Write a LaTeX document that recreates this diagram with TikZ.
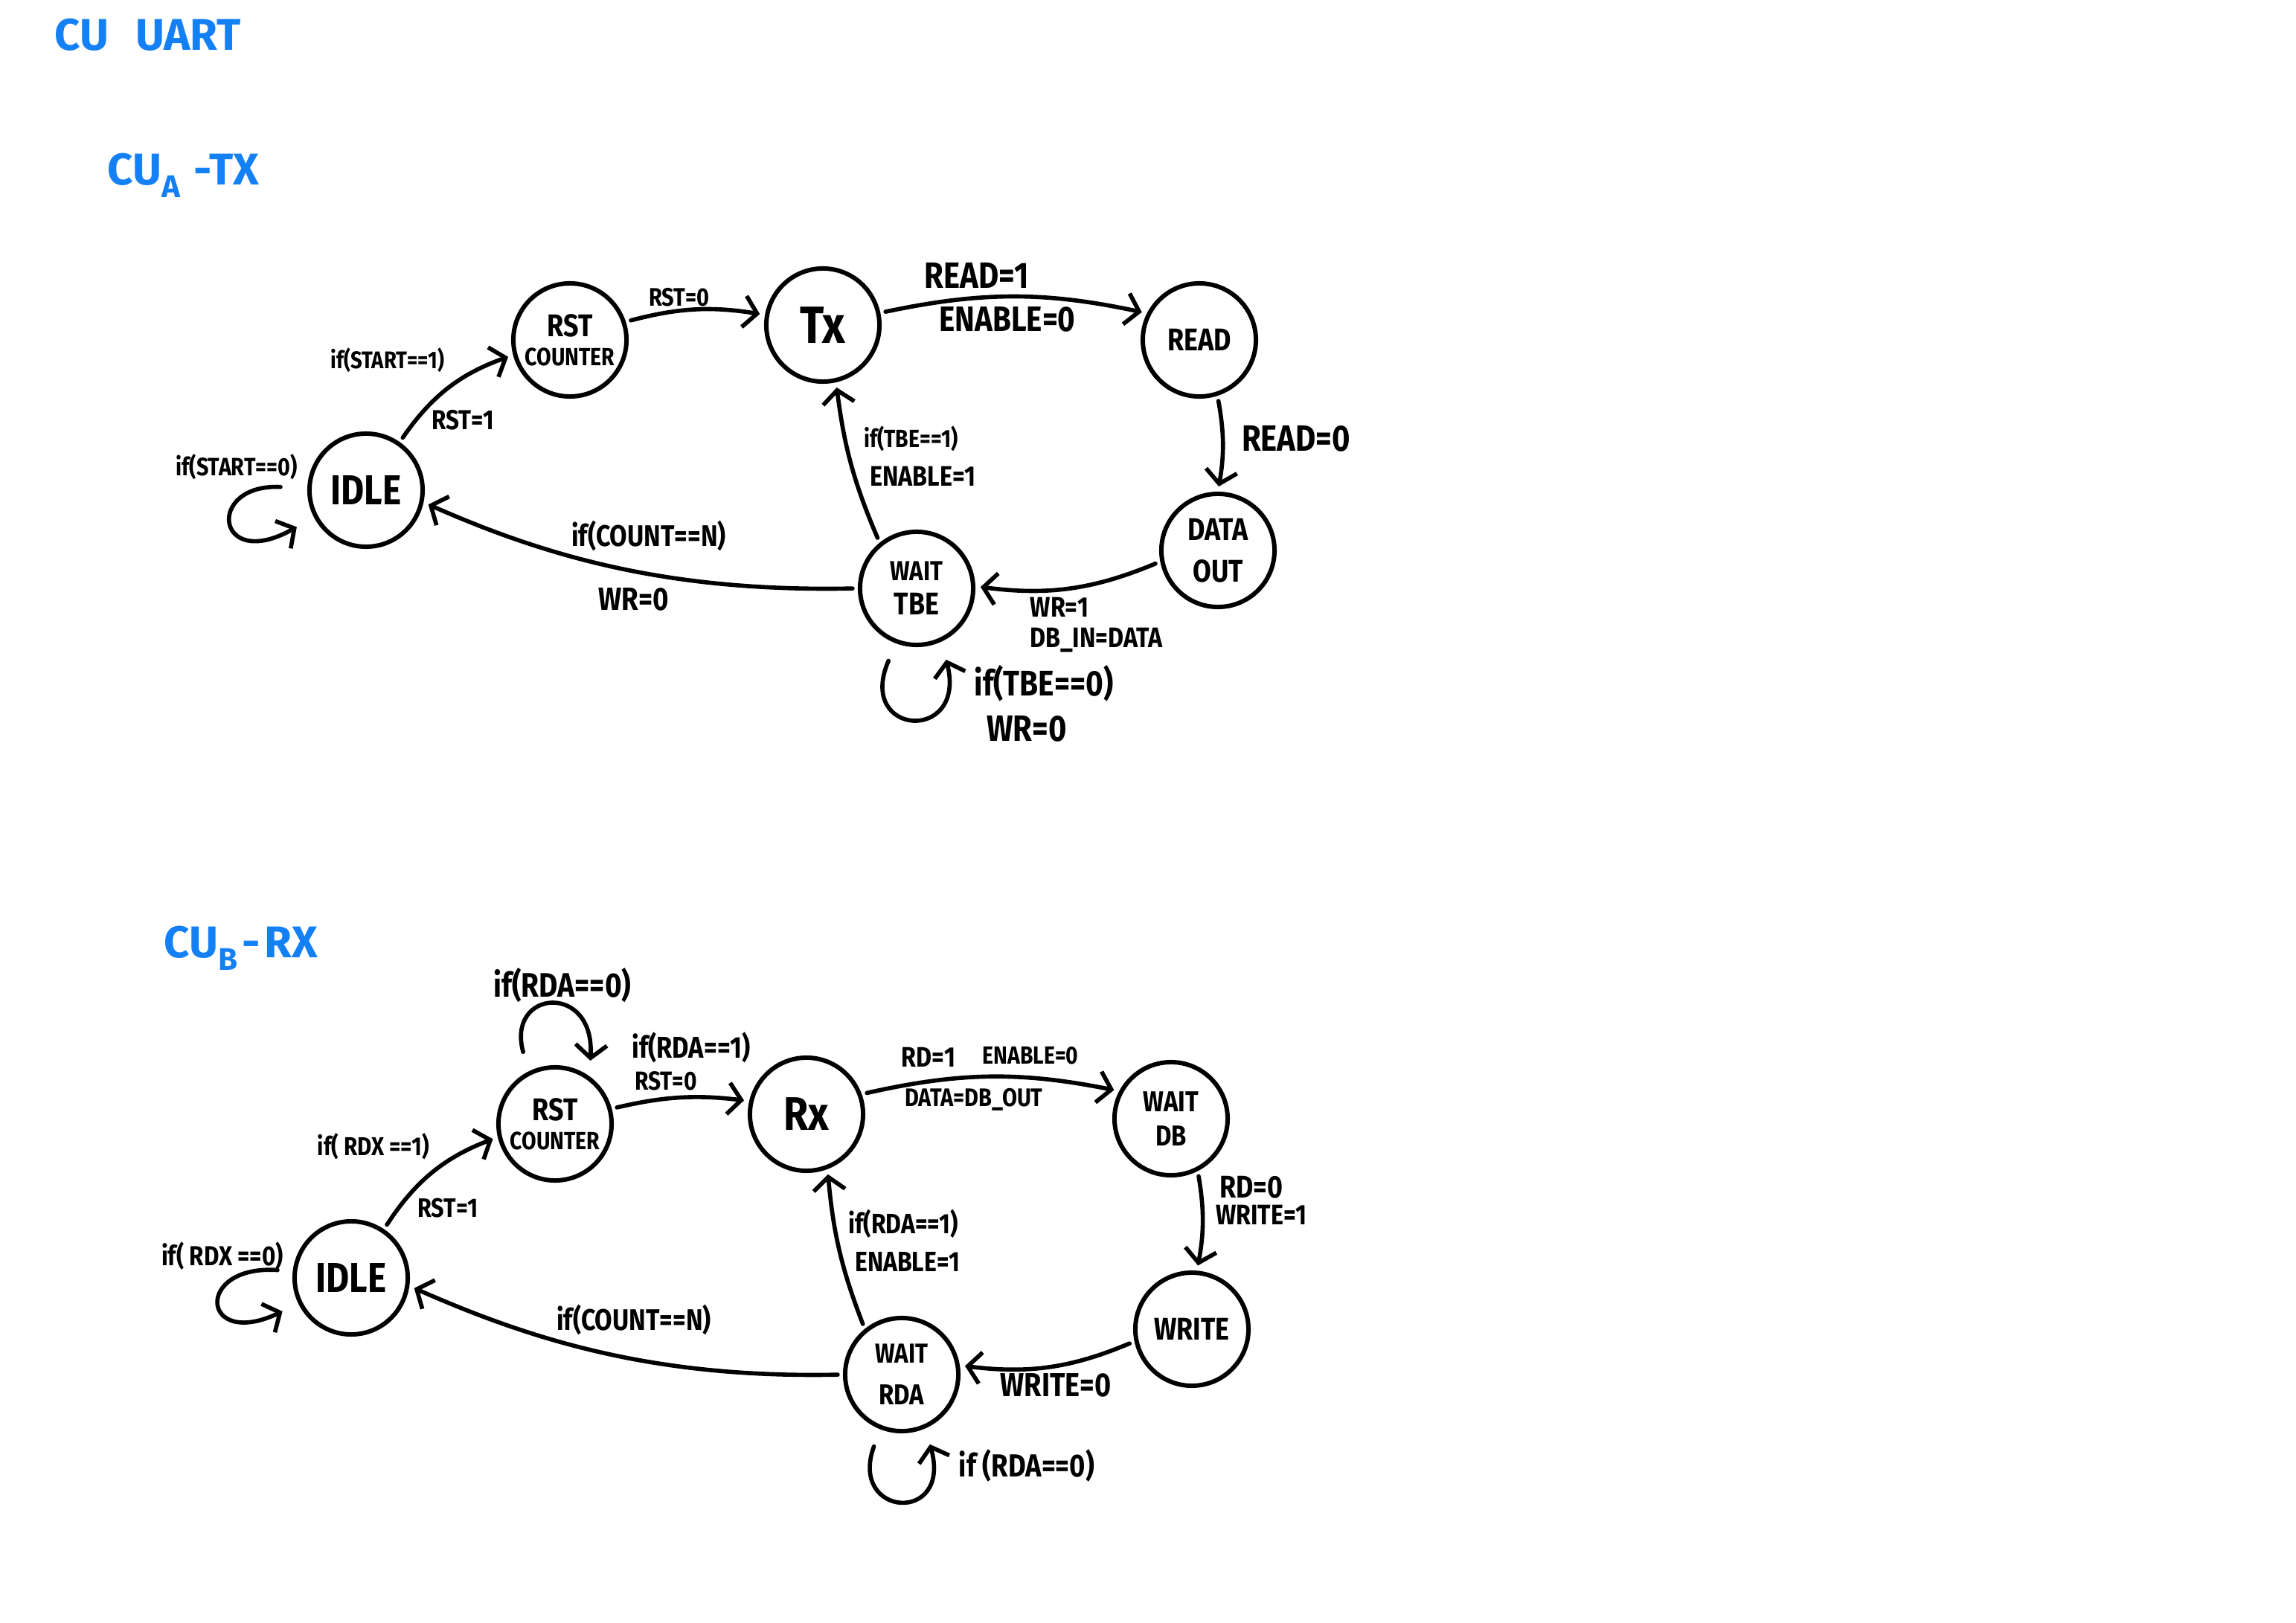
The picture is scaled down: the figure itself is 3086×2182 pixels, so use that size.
\documentclass[tikz,border=0pt]{standalone}
\usepackage{fontspec}
\setmainfont{Fira Sans}[FakeStretch=0.85]
\newfontfamily\headfont{Fira Sans}
\usetikzlibrary{arrows.meta}
\definecolor{titleblue}{RGB}{20,128,245}
\tikzset{
  state/.style={circle, draw, line width=1.7pt, minimum size=1.52cm, inner sep=0pt,
    align=center, font=\bfseries\fontsize{11}{12}\selectfont},
  edge/.style={line width=1.6pt, line cap=round,
    -{Straight Barb[length=5pt,width=12pt,line width=1.6pt]},
    shorten >=2pt, shorten <=2pt},
  lbl/.style={font=\bfseries\fontsize{#1}{#1}\selectfont, inner sep=1pt},
  lbl/.default=11,
  ttl/.style={text=titleblue, font=\headfont\bfseries\fontsize{17}{20}\selectfont,
    anchor=west, inner sep=0pt},
}
\newcommand{\fs}[1]{\fontsize{#1}{#1}\selectfont}
\begin{document}
\begin{tikzpicture}[x=0.01cm, y=-0.01cm]
  \fill[white] (0,0) rectangle (3086,2182);
  \useasboundingbox (0,0) rectangle (3086,2182);

  % headings
  \node[ttl] (head) at (73,47) {CU\hspace{0.6em}UART};
  \node[ttl] (headA) at (144,236) {CU\raisebox{-0.55ex}{\fs{12}A}\hspace{0.3em}-TX};
  \node[ttl] (headB) at (220,1275) {CU\raisebox{-0.55ex}{\fs{12}B}\hspace{0.1em}-\hspace{0.1em}RX};

  % ---------- transmitter control unit ----------
  \node[state] (idleA) at (492,659) {\fs{16}IDLE};
  \node[state] (rstA)  at (766,457) {\fs{12}RST\\[-1pt]\fs{9.5}COUNTER};
  \node[state] (tx)    at (1106,437) {\fs{20}Tx};
  \node[state] (read)  at (1612,457) {\fs{12}READ};
  \node[state] (dout)  at (1637,740) {\fs{12}DATA\\[4pt]\fs{12}OUT};
  \node[state] (wtbe)  at (1232,791) {\fs{10.5}WAIT\\[1pt]\fs{12}TBE};

  \draw[edge] (idleA.55) to[bend left=18] (rstA.195);
  \draw[edge] (rstA.18) to[bend left=12] (tx.170);
  \draw[edge] (tx.12) to[bend left=12] (read.153);
  \draw[edge] (read.-72) to[bend left=10] (dout.90);
  \draw[edge] (dout.191) to[bend left=15] (wtbe.2);
  \draw[edge] (wtbe.129) to[bend left=8] (tx.-77);
  \draw[edge] (wtbe.180) .. controls +(-250,5) and +(170,75) .. (idleA.-12);

  \coordinate (loopA1s) at (384,655);
  \coordinate (loopA1e) at (405,705);
  \draw[edge] (loopA1s) .. controls (275,650) and (290,770) .. (loopA1e);
  \coordinate (loopA2s) at (1197,882);
  \coordinate (loopA2e) at (1270,880);
  \draw[edge] (loopA2s) .. controls (1150,990) and (1300,1000) .. (loopA2e);

  \node[lbl=9.2]  (la1) at (521,484) {if(START==1)};
  \node[lbl=10.5] (la2) at (622,565) {RST=1};
  \node[lbl=9.6]  (la3) at (318,628) {if(START==0)};
  \node[lbl=9.7]  (la4) at (913,400) {RST=0};
  \node[lbl=14]   (la5) at (1313,370) {READ=1};
  \node[lbl=13.5] (la6) at (1354,429) {ENABLE=0};
  \node[lbl=14]   (la7) at (1742,590) {READ=0};
  \node[lbl=10.8, anchor=west, inner sep=0pt] (la8) at (1384,816) {WR=1};
  \node[lbl=10.8, anchor=west, inner sep=0pt] (la9) at (1384,861) {DB\_IN=DATA};
  \node[lbl=9.5, anchor=west] (la10) at (1157,590) {if(TBE==1)};
  \node[lbl=10.8, anchor=west] (la11) at (1165,640) {ENABLE=1};
  \node[lbl=11.4] (la12) at (872,720) {if(COUNT==N)};
  \node[lbl=12.3] (la13) at (852,806) {WR=0};
  \node[lbl=13.6] (la14) at (1403,919) {if(TBE==0)};
  \node[lbl=14]   (la15) at (1380,980) {WR=0};

  % ---------- receiver control unit ----------
  \node[state] (idleB) at (472,1718) {\fs{16}IDLE};
  \node[state] (rstB)  at (746,1511) {\fs{12}RST\\[-1pt]\fs{9.5}COUNTER};
  \node[state] (rx)    at (1084,1498) {\fs{18}Rx};
  \node[state] (wdb)   at (1574,1504) {\fs{11}WAIT\\[1pt]\fs{11}DB};
  \node[state] (write) at (1602,1787) {\fs{12}WRITE};
  \node[state] (wrda)  at (1212,1848) {\fs{10.5}WAIT\\[4pt]\fs{11}RDA};

  \draw[edge] (idleB.56) to[bend left=18] (rstB.193);
  \draw[edge] (rstB.15) to[bend left=10] (rx.167);
  \draw[edge] (rx.20) to[bend left=12] (wdb.152);
  \draw[edge] (wdb.-63) to[bend left=10] (write.85);
  \draw[edge] (write.192) to[bend left=15] (wrda.9);
  \draw[edge] (wrda.129) to[bend left=8] (rx.-69);
  \draw[edge] (wrda.180) .. controls +(-250,5) and +(170,75) .. (idleB.-8);

  \coordinate (loopB1s) at (380,1708);
  \coordinate (loopB1e) at (386,1760);
  \draw[edge] (loopB1s) .. controls (260,1700) and (270,1815) .. (loopB1e);
  \coordinate (loopB2s) at (705,1421);
  \coordinate (loopB2e) at (793,1433);
  \draw[edge] (loopB2s) .. controls (680,1330) and (800,1320) .. (loopB2e);
  \coordinate (loopB3s) at (1177,1938);
  \coordinate (loopB3e) at (1248,1935);
  \draw[edge] (loopB3s) .. controls (1140,2040) and (1280,2050) .. (loopB3e);

  \node[lbl=9.9]  (lb1) at (502,1541) {if( RDX ==1)};
  \node[lbl=10.2] (lb2) at (602,1624) {RST=1};
  \node[lbl=10.5] (lb3) at (299,1689) {if( RDX ==0)};
  \node[lbl=13]   (lb4) at (756,1324) {if(RDA==0)};
  \node[lbl=11.5] (lb5) at (929,1408) {if(RDA==1)};
  \node[lbl=10]   (lb6) at (895,1453) {RST=0};
  \node[lbl=10.8] (lb7) at (1248,1421) {RD=1};
  \node[lbl=9.5]  (lb8) at (1385,1419) {ENABLE=0};
  \node[lbl=9.7]  (lb9) at (1309,1478) {DATA=DB\_OUT};
  \node[lbl=12, anchor=west] (lb10) at (1635,1596) {RD=0};
  \node[lbl=10.8, anchor=west] (lb11) at (1630,1633) {WRITE=1};
  \node[lbl=12.7] (lb12) at (1419,1862) {WRITE=0};
  \node[lbl=10.7, anchor=west] (lb13) at (1136,1645) {if(RDA==1)};
  \node[lbl=10.7, anchor=west] (lb14) at (1145,1696) {ENABLE=1};
  \node[lbl=11.4] (lb15) at (852,1774) {if(COUNT==N)};
  \node[lbl=12.2] (lb16) at (1380,1970) {if (RDA==0)};
\end{tikzpicture}
\end{document}
